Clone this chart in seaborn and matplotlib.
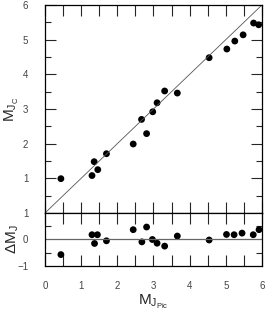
import matplotlib
matplotlib.use("Agg")
import matplotlib.pyplot as plt
import seaborn as sns
import pandas as pd
from matplotlib.ticker import MultipleLocator

# M_J from the Pic. relation vs. computed M_J
m_pic = [0.44, 1.30, 1.36, 1.46, 1.70, 2.44, 2.67, 2.81, 2.98, 3.10,
         3.31, 3.66, 4.54, 5.03, 5.25, 5.48, 5.77, 5.91]
m_c = [0.99, 1.08, 1.48, 1.25, 1.71, 1.99, 2.70, 2.29, 2.92, 3.18,
       3.52, 3.46, 4.48, 4.73, 4.96, 5.14, 5.48, 5.43]

# residuals, lower panel
res_x = [0.44, 1.30, 1.37, 1.45, 1.70, 2.44, 2.68, 2.81, 2.97, 3.10,
         3.31, 3.66, 4.54, 5.02, 5.23, 5.45, 5.76, 5.92]
res_y = [-0.57, 0.18, -0.15, 0.18, -0.05, 0.37, -0.09, 0.47, 0.00, -0.14,
         -0.25, 0.13, -0.02, 0.19, 0.18, 0.24, 0.18, 0.37]

one_to_one = [0, 6]
top_ticks = [1, 2, 3, 4, 5, 6]
bot_ticks = [-1, 0, 1]
x_ticks = [0, 1, 2, 3, 4, 5, 6]

df_top = pd.DataFrame({"x": m_pic, "y": m_c})
df_bot = pd.DataFrame({"x": res_x, "y": res_y})

sns.set_theme(style="ticks")
plt.rcParams["font.family"] = ["Liberation Sans", "DejaVu Sans"]
plt.rcParams["mathtext.default"] = "regular"

fig = plt.figure(figsize=(2.67, 3.14), dpi=100)
ax1 = fig.add_axes([0.1685, 0.3217, 0.8125, 0.6623])
ax2 = fig.add_axes([0.1685, 0.1529, 0.8125, 0.1688])

tick_col = "#444444"

# upper panel
ax1.plot(one_to_one, one_to_one, color="#555555", lw=0.6)
sns.scatterplot(data=df_top, x="x", y="y", ax=ax1, color="black",
                s=24, edgecolor="none", legend=False)
ax1.set_xlim(0, 6)
ax1.set_ylim(0, 6)
ax1.set_yticks(top_ticks)
ax1.yaxis.set_minor_locator(MultipleLocator(0.5))
ax1.xaxis.set_major_locator(MultipleLocator(0.5))
ax1.tick_params(axis="x", which="both", direction="in", top=True,
                bottom=True, labelbottom=False, length=8, width=0.8)
ax1.tick_params(axis="y", which="major", direction="in", left=True,
                right=True, length=8, width=0.8, labelsize=7,
                labelcolor=tick_col, pad=12)
ax1.tick_params(axis="y", which="minor", direction="in", left=True,
                right=True, length=4, width=0.8)
ax1.set_xlabel("")
ax1.set_ylabel(r"$M_{J_C}$", fontsize=11)
ax1.yaxis.set_label_coords(-0.11, 0.5)

# lower panel
ax2.axhline(0, color="#666666", lw=0.9)
sns.scatterplot(data=df_bot, x="x", y="y", ax=ax2, color="black",
                s=24, edgecolor="none", legend=False)
ax2.set_xlim(0, 6)
ax2.set_ylim(-1, 1)
ax2.set_yticks(bot_ticks)
ax2.yaxis.set_minor_locator(MultipleLocator(0.5))
ax2.set_xticks(x_ticks)
ax2.xaxis.set_minor_locator(MultipleLocator(0.5))
ax2.tick_params(axis="x", which="both", direction="in", top=True,
                bottom=True, length=8, width=0.8, labelsize=7,
                labelcolor=tick_col, pad=11)
ax2.tick_params(axis="y", which="major", direction="in", left=True,
                right=True, length=0, labelsize=7, labelcolor=tick_col,
                pad=12)
ax2.tick_params(axis="y", which="minor", direction="in", left=True,
                right=True, length=4, width=0.8)
ax2.set_xlabel(r"$M_{J_{Pic}}$", fontsize=11, labelpad=1)
ax2.set_ylabel(r"$\Delta M_J$", fontsize=11)
ax2.yaxis.set_label_coords(-0.11, 0.5)

for ax in (ax1, ax2):
    for sp in ax.spines.values():
        sp.set_linewidth(0.9)
        sp.set_color("black")

fig.savefig("out.png", dpi=100)
